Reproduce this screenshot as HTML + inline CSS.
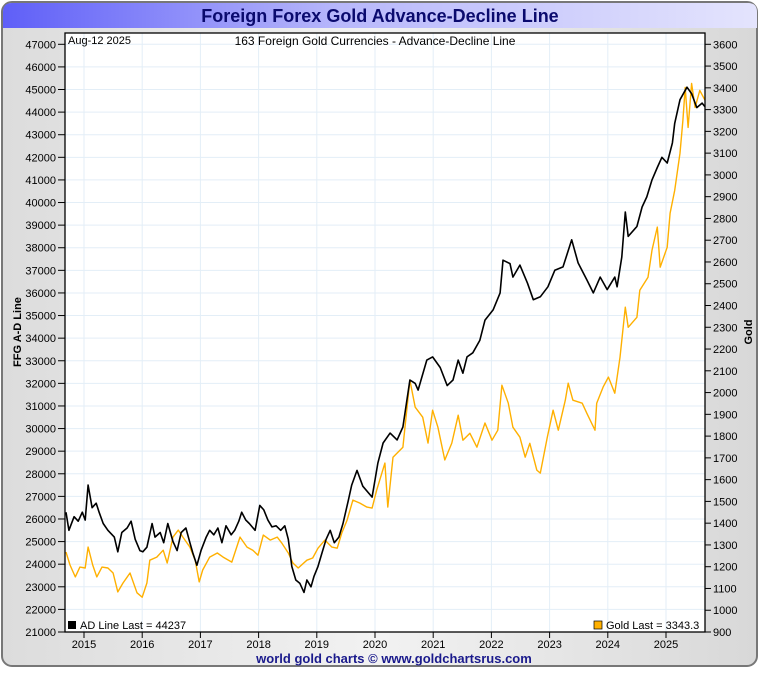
<!DOCTYPE html>
<html><head><meta charset="utf-8">
<style>
body{margin:0;width:760px;height:670px;overflow:hidden;background:#fff;font-family:"Liberation Sans",sans-serif;}
</style></head>
<body>
<svg id="chart" width="760" height="670" xmlns="http://www.w3.org/2000/svg" font-family="Liberation Sans, sans-serif">
<defs>
<linearGradient id="tg" x1="0" x2="1" y1="0" y2="0"><stop offset="0" stop-color="#5f5ff8"/><stop offset="0.45" stop-color="#b8b8fb"/><stop offset="1" stop-color="#e4e4fd"/></linearGradient>
<linearGradient id="bg" x1="0" x2="1" y1="0" y2="0"><stop offset="0" stop-color="#dcdcdc"/><stop offset="0.5" stop-color="#f2f2f2"/><stop offset="1" stop-color="#d8d8d8"/></linearGradient>
</defs>
<rect x="2" y="2" width="755" height="664" rx="10" fill="url(#bg)" stroke="#777" stroke-width="2"/>
<path d="M3,28 L3,12 Q3,3 12,3 L748,3 Q757,3 757,12 L757,28 Z" fill="url(#tg)"/>
<text x="380" y="22" text-anchor="middle" font-size="18" font-weight="bold" fill="#0a0a6e">Foreign Forex Gold Advance-Decline Line</text>
<rect x="65" y="33" width="640" height="599" fill="#fff"/>
<g id="grid"></g><g id="series"></g><g id="axes"></g>
<text x="68" y="44" font-size="11" fill="#000">Aug-12  2025</text>
<text x="375" y="45" text-anchor="middle" font-size="12" fill="#000">163 Foreign Gold Currencies - Advance-Decline Line</text>
<text transform="translate(21,332) rotate(-90)" text-anchor="middle" font-size="11" font-weight="bold">FFG A-D Line</text>
<text transform="translate(752,332) rotate(-90)" text-anchor="middle" font-size="11" font-weight="bold">Gold</text>
<rect x="68" y="621" width="8" height="8" fill="#000"/>
<text x="80" y="629" font-size="11">AD Line Last = 44237</text>
<rect x="594" y="621" width="8" height="8" fill="#ffb000" stroke="#000" stroke-width="0.7"/>
<text x="606" y="629" font-size="11">Gold  Last = 3343.3</text>
<text x="394" y="663" text-anchor="middle" font-size="13" font-weight="bold" fill="#1a1a8c">world gold charts © www.goldchartsrus.com</text>
</svg>
<script>
const adDates=[2014.69,2014.74,2014.83,2014.90,2014.97,2015.02,2015.07,2015.14,2015.21,2015.26,2015.33,2015.41,2015.52,2015.58,2015.65,2015.74,2015.81,2015.88,2015.96,2016.01,2016.08,2016.17,2016.22,2016.31,2016.37,2016.44,2016.53,2016.60,2016.67,2016.75,2016.82,2016.87,2016.94,2017.01,2017.10,2017.16,2017.23,2017.30,2017.37,2017.44,2017.53,2017.59,2017.66,2017.71,2017.78,2017.84,2017.94,2018.02,2018.09,2018.16,2018.23,2018.30,2018.38,2018.45,2018.51,2018.57,2018.64,2018.71,2018.78,2018.83,2018.90,2018.95,2019.02,2019.09,2019.16,2019.23,2019.30,2019.38,2019.45,2019.54,2019.60,2019.69,2019.79,2019.95,2020.05,2020.14,2020.26,2020.38,2020.48,2020.60,2020.69,2020.74,2020.89,2020.99,2021.12,2021.24,2021.34,2021.43,2021.51,2021.58,2021.68,2021.80,2021.89,2022.03,2022.15,2022.20,2022.32,2022.37,2022.49,2022.62,2022.72,2022.84,2022.97,2023.09,2023.23,2023.38,2023.49,2023.64,2023.75,2023.87,2023.99,2024.12,2024.16,2024.24,2024.30,2024.35,2024.50,2024.59,2024.67,2024.76,2024.85,2024.93,2025.02,2025.11,2025.15,2025.24,2025.36,2025.44,2025.53,2025.62,2025.67];
const adValues=[26300,25500,26100,25900,26300,25950,27500,26500,26700,26300,25800,25500,25200,24550,25400,25600,25900,25100,24600,24550,24750,25800,25200,25400,24950,25800,25000,24600,25400,25600,24950,24500,23950,24600,25200,25500,25300,25600,24950,25700,25300,25500,25900,26300,25950,25800,25500,26600,26400,25950,25650,25700,25500,25700,25100,23900,23300,23150,22750,23300,23000,23450,23900,24500,25100,25500,24950,25200,25800,26800,27500,28150,27450,26970,28480,29360,29800,29500,30070,32150,32000,31700,33030,33170,32700,31900,32150,33030,32450,33170,33350,33900,34800,35250,36000,37450,37300,36700,37230,36430,35700,35830,36270,37000,37150,38350,37330,36580,36000,36700,36150,36700,36270,37590,39580,38500,38940,39800,40250,41000,41550,42000,41750,42640,43500,44550,45100,44820,44200,44400,44237];
const goldDates=[2014.69,2014.76,2014.85,2014.93,2015.02,2015.07,2015.15,2015.22,2015.31,2015.41,2015.50,2015.58,2015.67,2015.79,2015.91,2016.00,2016.08,2016.13,2016.25,2016.36,2016.43,2016.53,2016.62,2016.70,2016.82,2016.91,2016.98,2017.04,2017.16,2017.29,2017.39,2017.54,2017.68,2017.80,2017.90,2017.99,2018.08,2018.20,2018.32,2018.40,2018.51,2018.59,2018.68,2018.83,2018.93,2019.02,2019.14,2019.26,2019.35,2019.43,2019.52,2019.62,2019.74,2019.86,2019.95,2020.03,2020.17,2020.22,2020.31,2020.48,2020.60,2020.69,2020.82,2020.91,2020.99,2021.08,2021.20,2021.32,2021.43,2021.51,2021.63,2021.75,2021.89,2022.01,2022.11,2022.18,2022.29,2022.37,2022.49,2022.58,2022.66,2022.78,2022.84,2022.96,2023.06,2023.15,2023.27,2023.32,2023.40,2023.56,2023.64,2023.78,2023.81,2023.92,2024.01,2024.12,2024.21,2024.30,2024.35,2024.50,2024.55,2024.69,2024.76,2024.85,2024.90,2025.02,2025.07,2025.15,2025.24,2025.29,2025.33,2025.38,2025.44,2025.50,2025.58,2025.67];
const goldValues=[1267,1208,1153,1198,1194,1290,1208,1153,1198,1194,1171,1084,1125,1171,1080,1060,1125,1230,1244,1276,1217,1336,1368,1336,1290,1230,1130,1185,1244,1263,1244,1221,1336,1290,1276,1253,1345,1322,1336,1308,1263,1217,1194,1230,1240,1285,1322,1290,1285,1355,1414,1506,1492,1474,1469,1552,1676,1474,1703,1749,2057,1933,1887,1768,1919,1841,1690,1768,1896,1781,1813,1749,1860,1781,1827,2034,1951,1841,1795,1703,1767,1644,1630,1795,1919,1827,1965,2043,1965,1951,1905,1827,1951,2025,2071,1997,2162,2392,2300,2346,2470,2530,2654,2760,2576,2668,2824,2929,3100,3251,3402,3218,3420,3310,3388,3343];
const leftTicks=[21000,22000,23000,24000,25000,26000,27000,28000,29000,30000,31000,32000,33000,34000,35000,36000,37000,38000,39000,40000,41000,42000,43000,44000,45000,46000,47000];
const rightTicks=[900,1000,1100,1200,1300,1400,1500,1600,1700,1800,1900,2000,2100,2200,2300,2400,2500,2600,2700,2800,2900,3000,3100,3200,3300,3400,3500,3600];
const yearTicks=[2015,2016,2017,2018,2019,2020,2021,2022,2023,2024,2025];

const X0=65,X1=705,Y0=632,Y1=44.3;
const xS=t=>84+(t-2015)*58.2;
const yL=v=>Y0-(v-21000)/(47000-21000)*(Y0-Y1);
const yR=v=>Y0-(v-900)/(3600-900)*(Y0-Y1);
const NS='http://www.w3.org/2000/svg';
function mk(tag,attrs,parent,txt){const e=document.createElementNS(NS,tag);for(const k in attrs)e.setAttribute(k,attrs[k]);if(txt!==undefined)e.textContent=txt;parent.appendChild(e);return e;}
const grid=document.getElementById('grid'),axes=document.getElementById('axes'),series=document.getElementById('series');
leftTicks.forEach(v=>{const y=yL(v);
 const g=mk('line',{x1:X0,x2:X1,y1:y,y2:y,stroke:'#e3eef7','stroke-width':1},grid);
 
 
 const tk=mk('line',{x1:58,x2:65,y1:y,y2:y,stroke:'#000'},axes);
 
 
 const t=mk('text',{x:56,y:y+4,'text-anchor':'end','font-size':11},axes,String(v));
 
 
});
rightTicks.forEach(v=>{const y=yR(v);
 const tk=mk('line',{x1:705,x2:711,y1:y,y2:y,stroke:'#000'},axes);
 
 
 const t=mk('text',{x:713,y:y+4,'font-size':11},axes,String(v));
 
 
});
yearTicks.forEach(yr=>{const x=xS(yr);
 const g=mk('line',{x1:x,x2:x,y1:33,y2:Y0,stroke:'#e3eef7','stroke-width':1},grid);
 
 
 const tk=mk('line',{x1:x,x2:x,y1:Y0,y2:Y0+6,stroke:'#000'},axes);
 
 
 const t=mk('text',{x:x,y:648,'text-anchor':'middle','font-size':11},axes,String(yr));
 
 
});
const gp=goldDates.map((d,i)=>xS(d).toFixed(1)+','+yR(goldValues[i]).toFixed(1)).join(' ');
const gl=mk('polyline',{points:gp,fill:'none',stroke:'#ffb000','stroke-width':1.4,'stroke-linejoin':'round'},series);


const ap=adDates.map((d,i)=>xS(d).toFixed(1)+','+yL(adValues[i]).toFixed(1)).join(' ');
const al=mk('polyline',{points:ap,fill:'none',stroke:'#000','stroke-width':1.6,'stroke-linejoin':'round'},series);


const fr=mk('rect',{x:X0,y:33,width:X1-X0,height:Y0-33,fill:'none',stroke:'#000','stroke-width':1.3},axes);


</script>
</body></html>
